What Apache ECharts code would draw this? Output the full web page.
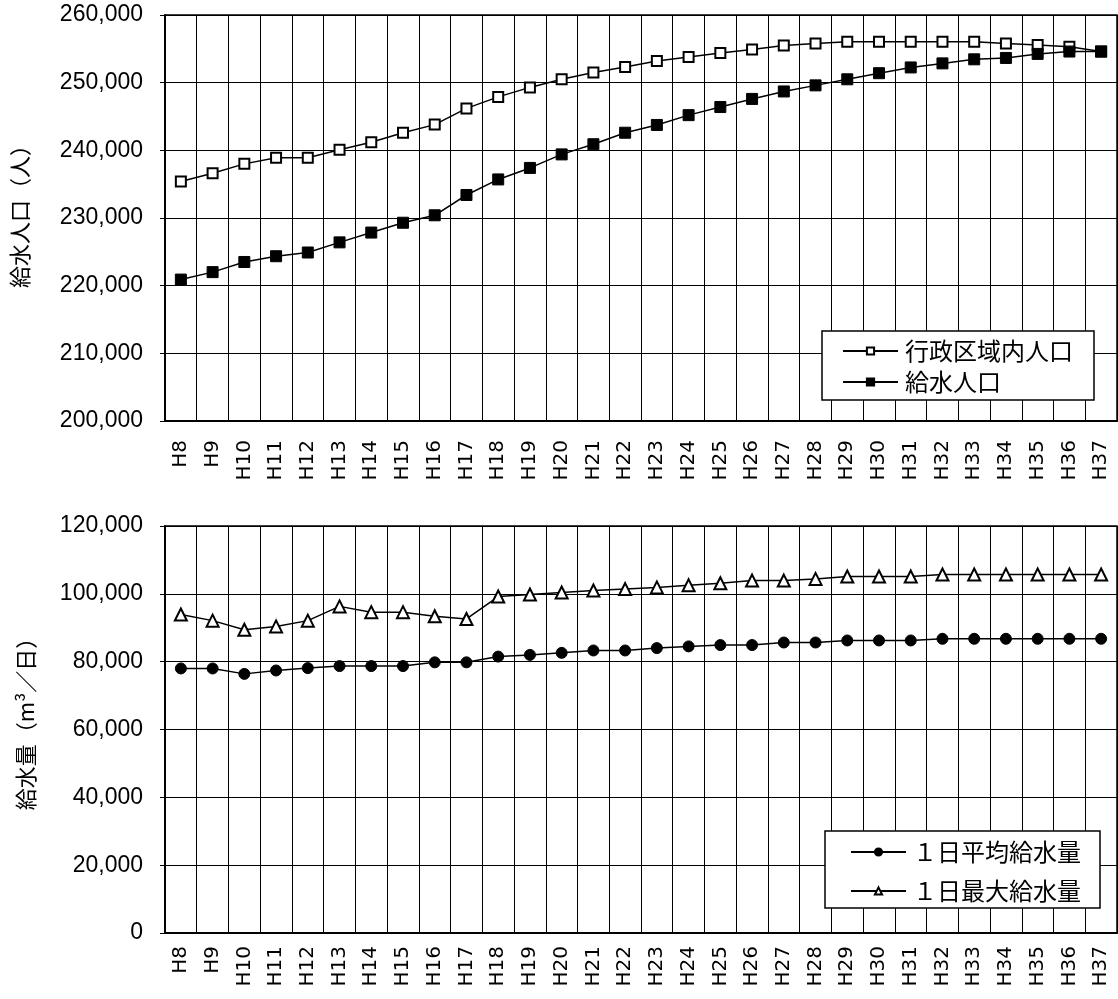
<!DOCTYPE html>
<html><head><meta charset="utf-8">
<script src="https://cdn.jsdelivr.net/npm/echarts@6/dist/echarts.min.js"></script>
<style>html,body{margin:0;padding:0;background:#fff}#c{width:1118px;height:999px}</style>
</head><body><div id="c"></div>
<script>
const categories = ['H8','H9','H10','H11','H12','H13','H14','H15','H16','H17','H18','H19','H20','H21','H22','H23','H24','H25','H26','H27','H28','H29','H30','H31','H32','H33','H34','H35','H36','H37'];
const adminPop = [235400,236600,238000,238900,238900,240100,241200,242600,243800,246200,247900,249300,250500,251500,252300,253200,253800,254400,254900,255500,255800,256050,256050,256050,256050,256050,255800,255550,255300,254600];
const servedPop = [220900,222000,223500,224350,224900,226400,227850,229300,230400,233400,235700,237400,239400,240900,242600,243750,245200,246400,247600,248700,249600,250500,251400,252250,252850,253450,253650,254250,254600,254600];
const avgSupply = [78000,78000,76400,77400,78100,78700,78700,78700,79800,79800,81500,82000,82600,83300,83300,84000,84500,84900,84900,85650,85650,86250,86250,86250,86750,86750,86750,86750,86750,86750];
const maxSupply = [93900,92100,89400,90400,92100,96300,94600,94600,93400,92600,99200,99800,100400,101000,101400,101900,102500,103100,103900,103900,104400,105100,105100,105100,105700,105700,105700,105700,105700,105700];
const popTicks = {min:200000, max:260000, interval:10000};
const supTicks = {min:0, max:120000, interval:20000};

const CJK = '"Noto Sans CJK JP", sans-serif';
const NUM = '"Liberation Sans", Arial, sans-serif';
const fmt = v => v.toLocaleString('en-US');
const chart = echarts.init(document.getElementById('c'));

function xAxis(gi, margin){
  return {type:'category', gridIndex:gi, data:categories, boundaryGap:true,
    axisLine:{lineStyle:{color:'#000', width:2}},
    axisTick:{show:false},
    axisLabel:{rotate:90, interval:0, color:'#000', fontSize:20, fontFamily:'"DejaVu Sans", sans-serif', margin:margin},
    splitLine:{show:true, interval:0, lineStyle:{color:'#000', width:1}}};
}
function yAxis(gi, t, name, gap, shift){
  return {type:'value', gridIndex:gi, min:t.min, max:t.max, interval:t.interval,
    name:name, nameLocation:'middle', nameRotate:90, nameGap:gap,
    nameTextStyle:{color:'#000', fontSize:22, fontFamily:CJK, padding:[0,0,0,shift]},
    axisLine:{show:true, lineStyle:{color:'#000', width:2}},
    axisTick:{show:true, length:5, lineStyle:{color:'#000'}},
    axisLabel:{color:'#000', fontSize:23, fontFamily:NUM, formatter:fmt, margin:22},
    splitLine:{show:true, lineStyle:{color:'#000', width:1}}};
}
function line(name, data, gi, symbol, fill, size){
  return {name:name, type:'line', xAxisIndex:gi, yAxisIndex:gi, data:data,
    symbol:symbol, symbolSize:size, showAllSymbol:true,
    lineStyle:{color:'#000', width:1.5},
    itemStyle:{color:fill, borderColor:'#000', borderWidth:fill==='#fff'?2:1},
    emphasis:{disabled:true}, animation:false};
}
const legendBase = {orient:'vertical', backgroundColor:'#fff', borderColor:'#000', borderWidth:1.5,
  itemWidth:55, itemHeight:9};

chart.setOption({
  animation:false,
  grid:[
    {left:165, top:15, right:1, height:406, show:true, borderColor:'#000', borderWidth:1.5, backgroundColor:'transparent'},
    {left:165, top:526, right:1, height:407, show:true, borderColor:'#000', borderWidth:1.5, backgroundColor:'transparent'}
  ],
  xAxis:[xAxis(0, 19), xAxis(1, 13)],
  yAxis:[yAxis(0, popTicks, '給水人口（人）', 134, 14), yAxis(1, supTicks, '給水量（m³／日）', 128, 22)],
  legend:[
    Object.assign({}, legendBase, {left:822, top:331, padding:[8,21,6,20], itemGap:7, data:['行政区域内人口','給水人口'],
      textStyle:{color:'#000', fontSize:24, fontFamily:CJK, padding:[0,0,0,2]}}),
    Object.assign({}, legendBase, {left:825, top:831, padding:[9,19,5,25], itemGap:15, data:['１日平均給水量','１日最大給水量'],
      textStyle:{color:'#000', fontSize:24, fontFamily:CJK, padding:[0,0,0,2]}})
  ],
  series:[
    line('行政区域内人口', adminPop, 0, 'rect', '#fff', 10),
    line('給水人口', servedPop, 0, 'rect', '#000', 11),
    line('１日平均給水量', avgSupply, 1, 'circle', '#000', 11),
    line('１日最大給水量', maxSupply, 1, 'triangle', '#fff', 12)
  ]
});
</script></body></html>
